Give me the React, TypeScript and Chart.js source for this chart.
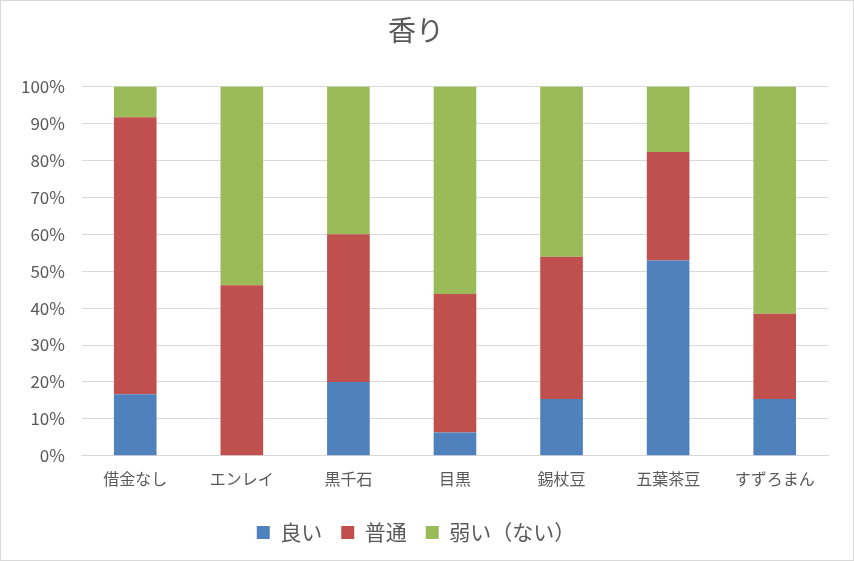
import React, { useEffect, useRef } from "react";
import { Chart, registerables } from "chart.js";

Chart.register(...registerables);

const categories = ["借金なし", "エンレイ", "黒千石", "目黒", "錫杖豆", "五葉茶豆", "すずろまん"];
const good = [16.7, 0, 20, 6.3, 15.4, 52.9, 15.4];
const normal = [75, 46.2, 40, 37.5, 38.5, 29.4, 23.1];
const weak = [8.3, 53.8, 40, 56.2, 46.1, 17.7, 61.5];
const seriesNames = ["良い", "普通", "弱い（ない）"];
const yTicks = [0, 10, 20, 30, 40, 50, 60, 70, 80, 90, 100];

const FONT = "'Noto Sans CJK JP', 'Noto Sans', sans-serif";

export default function App() {
  const ref = useRef<HTMLCanvasElement>(null);
  useEffect(() => {
    const bg = {
      id: "bg",
      beforeDraw(chart: any) {
        const { ctx, width, height } = chart;
        ctx.save();
        ctx.fillStyle = "#ffffff";
        ctx.fillRect(0, 0, width, height);
        ctx.strokeStyle = "#D9D9D9";
        ctx.lineWidth = 1;
        ctx.strokeRect(0.5, 0.5, width - 1, height - 1);
        ctx.restore();
      },
    };
    const chart = new Chart(ref.current!, {
      type: "bar",
      data: {
        labels: categories,
        datasets: [
          { label: seriesNames[0], data: good, backgroundColor: "#4F81BD" },
          { label: seriesNames[1], data: normal, backgroundColor: "#C0504D" },
          { label: seriesNames[2], data: weak, backgroundColor: "#9BBB59" },
        ],
      },
      options: {
        animation: false,
        responsive: false,
        devicePixelRatio: 1,
        layout: { padding: { left: 4, right: 26, top: 6, bottom: 8 } },
        datasets: { bar: { categoryPercentage: 1, barPercentage: 0.4 } },
        plugins: {
          title: {
            display: true,
            text: "香り",
            color: "#595959",
            font: { family: FONT, size: 28, weight: "normal" },
            padding: { top: 8, bottom: 39 },
          },
          legend: {
            position: "bottom",
            labels: {
              color: "#595959",
              font: { family: FONT, size: 21 },
              boxWidth: 13,
              boxHeight: 13,
              padding: 19,
            },
          },
          tooltip: { enabled: false },
        },
        scales: {
          x: {
            stacked: true,
            grid: { display: false, drawTicks: false },
            border: { display: true, color: "#D9D9D9" },
            ticks: { color: "#595959", font: { family: FONT, size: 16 }, padding: 14 },
          },
          y: {
            stacked: true,
            min: 0,
            max: 100,
            afterBuildTicks(scale: any) {
              scale.ticks = yTicks.map((v) => ({ value: v }));
            },
            grid: { color: "#D9D9D9", drawTicks: false },
            border: { display: false },
            ticks: {
              color: "#595959",
              font: { family: FONT, size: 17 },
              padding: 17,
              callback: (v: any) => v + "%",
            },
          },
        },
      },
      plugins: [bg],
    });
    return () => chart.destroy();
  }, []);
  return (
    <div style={{ position: "fixed", left: 0, top: 0, width: 854, height: 561 }}>
      <canvas ref={ref} width={854} height={561} style={{ display: "block" }} />
    </div>
  );
}
